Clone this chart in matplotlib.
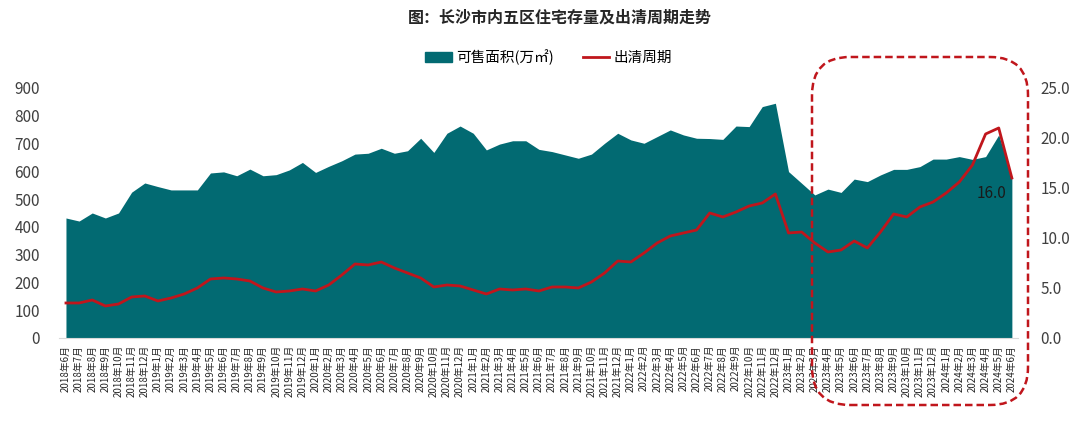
import matplotlib
matplotlib.use("Agg")
import matplotlib.pyplot as plt
from matplotlib.patches import FancyBboxPatch, Patch
from matplotlib.lines import Line2D

plt.rcParams['font.family'] = ['Noto Sans CJK SC', 'DejaVu Sans']

# 月份标签 2018年6月 - 2024年6月
months = [f"{y}年{m}月" for y in range(2018, 2025) for m in range(1, 13)]
months = months[5:5 + 73]

# 可售面积(万㎡)
stock = [432, 421, 450, 432, 450, 525, 558, 545, 533, 533,
         533, 594, 598, 584, 608, 584, 588, 605, 632, 596,
         618, 638, 662, 665, 683, 665, 674, 719, 668, 737,
         763, 737, 677, 698, 710, 710, 679, 671, 659, 647,
         662, 701, 737, 713, 701, 725, 749, 731, 719, 718,
         715, 763, 761, 833, 845, 599, 557, 515, 536, 524,
         572, 563, 587, 607, 607, 617, 644, 644, 653, 643,
         653, 731, 581]

# 出清周期(月)
cycle = [3.5, 3.5, 3.8, 3.2, 3.4, 4.1, 4.2, 3.7, 4.0, 4.4,
         5.0, 5.9, 6.0, 5.9, 5.7, 5.0, 4.6, 4.7, 4.9, 4.7,
         5.3, 6.3, 7.4, 7.3, 7.6, 7.0, 6.5, 6.0, 5.1, 5.3,
         5.2, 4.8, 4.4, 4.9, 4.8, 4.9, 4.7, 5.1, 5.1, 5.0,
         5.6, 6.5, 7.7, 7.6, 8.5, 9.5, 10.2, 10.5, 10.8, 12.5,
         12.1, 12.6, 13.2, 13.5, 14.4, 10.5, 10.6, 9.5, 8.6, 8.8,
         9.7, 9.0, 10.6, 12.4, 12.1, 13.1, 13.6, 14.5, 15.6, 17.3,
         20.4, 21.0, 16.0]

teal = "#026A72"
red = "#C0161C"
grey = "#404040"

fig = plt.figure(figsize=(10.8, 4.36), dpi=100)
ax = fig.add_axes([0.055, 0.2248, 0.888, 0.5734])
x = list(range(len(months)))
ax.fill_between(x, stock, 0, color=teal, linewidth=0)
ax.set_xlim(-0.5, len(months) - 0.5)
ax.set_ylim(0, 900)
ax.set_yticks(range(0, 901, 100))
ax.set_xticks(x)
ax.set_xticklabels(months, rotation=90, fontsize=7, color="#262626")
ax.tick_params(axis='x', length=0, pad=5)
ax.tick_params(axis='y', length=0, pad=14, labelsize=11, labelcolor=grey)
for s in ['top', 'left', 'right']:
    ax.spines[s].set_visible(False)
ax.spines['bottom'].set_color("#d9d9d9")

ax2 = ax.twinx()
ax2.plot(x, cycle, color=red, linewidth=2, solid_joinstyle='round')
ax2.set_ylim(0, 25)
ax2.set_yticks([0, 5, 10, 15, 20, 25])
ax2.set_yticklabels([f"{v:.1f}" for v in [0, 5, 10, 15, 20, 25]])
ax2.tick_params(axis='y', length=0, pad=16, labelsize=11, labelcolor=grey)
for s in ['top', 'left', 'right', 'bottom']:
    ax2.spines[s].set_visible(False)
ax2.annotate(f"{cycle[-1]:.1f}", xy=(x[-1], cycle[-1]), xytext=(-4, -5),
             textcoords='offset points', ha='right', va='top',
             fontsize=11, color="#1a1a1a")

fig.text(0.518, 0.959, "图：长沙市内五区住宅存量及出清周期走势",
         ha='center', va='center', fontsize=11.5, fontweight='bold', color="#262626")

handles = [Patch(color=teal), Line2D([], [], color=red, linewidth=2)]
fig.legend(handles, ["可售面积(万㎡)", "出清周期"], loc='center',
           bbox_to_anchor=(0.508, 0.869), ncol=2, frameon=False,
           fontsize=10.5, handlelength=1.8, handleheight=0.7,
           columnspacing=2.0, handletextpad=0.3)

# 红色虚线圆角框
box = FancyBboxPatch((8.12, 0.31), 2.16, 3.48,
                     boxstyle="round,pad=0,rounding_size=0.38",
                     transform=fig.dpi_scale_trans, fill=False,
                     edgecolor=red, linewidth=1.8, linestyle=(0, (3, 1.6)),
                     clip_on=False)
fig.patches.append(box)

fig.savefig("out.png", dpi=100)
